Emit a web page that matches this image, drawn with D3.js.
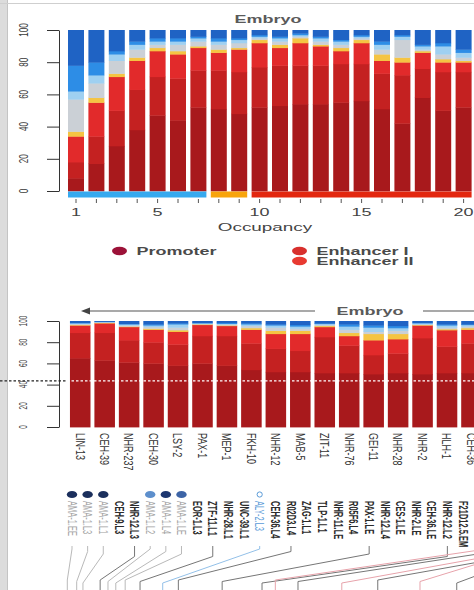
<!DOCTYPE html>
<html>
<head>
<meta charset="utf-8">
<script src="https://cdn.jsdelivr.net/npm/d3@7"></script>
<style>
  html, body { margin: 0; padding: 0; background: #fff; }
  svg { display: block; font-family: "Liberation Sans", Arial, sans-serif; }
</style>
</head>
<body>
<svg id="fig" width="474" height="590"></svg>
<script>
// ---------- occupancy panel: share of each chromatin state (%) per occupancy level ----------
const occupancy = [1, 2, 3, 4, 5, 6, 7, 8, 9, 10, 11, 12, 13, 14, 15, 16, 17, 18, 19, 20];
const occTickLabels = [1, 5, 10, 15, 20];
const occClass = ["low", "low", "low", "low", "low", "low", "low", "mid", "mid",
                  "high", "high", "high", "high", "high", "high", "high", "high", "high", "high", "high"];

const occPromoter   = [8, 17, 28, 38, 47, 44, 52, 51, 48, 52, 53, 54, 54, 55, 56, 51, 42, 58, 50, 52];
const occEnhancerI  = [10, 17, 22, 25, 24, 26, 23, 24, 26, 25, 25, 24, 24, 24, 23, 22, 30, 18, 24, 22];
const occEnhancerII = [16, 21, 21, 18, 16, 15, 14, 11, 14, 15, 11, 14, 12, 8, 13, 8, 8, 10, 6, 6];
const occAmber      = [3, 3, 2, 2, 2, 2, 1, 2, 1, 2, 2, 3, 1, 2, 2, 4, 3, 1, 2, 1];
const occGrey       = [20, 9, 8, 5, 2, 4, 3, 3, 3, 1, 2, 1, 2, 2, 1, 3, 11, 1, 3, 2];
const occSky        = [5, 5, 4, 3, 2, 2, 2, 2, 2, 1, 2, 1, 2, 2, 1, 3, 2, 2, 5, 3];
const occBlue       = [16, 8, 2, 2, 2, 2, 1, 2, 1, 1, 1, 1, 1, 1, 1, 2, 1, 1, 2, 2];
const occNavy       = [22, 20, 13, 7, 5, 5, 4, 5, 5, 3, 4, 2, 4, 6, 3, 7, 3, 9, 8, 12];

// ---------- factor panel: same states per transcription factor ----------
const factors = ["LIN-13", "CEH-39", "NHR-237", "CEH-30", "LSY-2", "PAX-1", "MEP-1", "FKH-10", "NHR-12",
                 "MAB-5", "ZIT-11", "NHR-76", "GEI-11", "NHR-28", "NHR-2", "HLH-1", "CEH-36"];
const tfPromoter   = [65, 63, 61, 60, 58, 60, 58, 54, 52, 52, 51, 51, 50, 51, 50, 51, 51];
const tfEnhancerI  = [24, 26, 21, 20, 20, 26, 28, 25, 22, 20, 34, 26, 18, 18.5, 34, 25, 28];
const tfEnhancerII = [7, 9, 12.5, 12, 12, 10.5, 9.5, 13, 14, 16, 9.5, 9, 14, 13.5, 12, 15.5, 13];
const tfAmber      = [0.5, 0.5, 0.5, 1, 1.5, 0.5, 0.5, 1.5, 3, 3, 1, 3, 6, 5, 0.5, 1, 1.5];
const tfGrey       = [1, 0.5, 1, 1.5, 2.5, 0.5, 1, 2, 3, 2, 1, 3, 2, 3, 0.5, 1.5, 1.5];
const tfSky        = [0.5, 0.3, 1, 1.5, 3, 0.5, 0.5, 1.5, 2, 2, 1, 3, 4, 2.5, 1, 2, 1.5];
const tfBlue       = [0.5, 0.2, 0.5, 1, 1, 0.5, 1, 1, 1, 1.5, 0.5, 2, 2, 2, 0.5, 1, 0.5];
const tfNavy       = [1.5, 0.5, 2.5, 3, 2, 1.5, 1.5, 2, 3, 3.5, 2, 3, 4, 4.5, 1.5, 3, 3];
const tfRefLine = 43.5;

// ---------- experiment labels and their links to the lineage below ----------
const experiments = ["AMA-1.EE", "AMA-1.L3", "AMA-1.L1", "CEH-9.L3", "NHR-12.L3", "AMA-1.L2", "AMA-1.L4",
                     "AMA-1.LE", "EOR-1.L3", "ZTF-11.L1", "NHR-28.L1", "UNC-39.L1", "ALY-2.L3", "CEH-36.L4",
                     "R02D3.L4", "ZAG-1.L1", "TLP-1.L1", "NHR-11.LE", "R05F6.L4", "PAX-1.LE", "NHR-12.L4",
                     "CES-1.LE", "NHR-2.LE", "CEH-36.LE", "NHR-12.L2", "F21D12.5.EM"];
const experimentTone = ["muted", "muted", "muted", "plain", "plain", "muted", "muted", "muted", "plain", "plain",
                        "plain", "plain", "sky", "plain", "plain", "plain", "plain", "plain", "plain", "plain",
                        "plain", "plain", "plain", "plain", "plain", "plain"];
const markerIndex = [0, 1, 2, 5, 6, 7];
const markerTone  = ["#1b2f5c", "#1b2f5c", "#1b2f5c", "#5d8fcc", "#1d3770", "#3d64a6"];
const linkFrom = [0, 1, 2, 4, 5, 6, 7, 9, 12, 14, 19, 24, 26.5, 27, 27.5, 28, 29, 30];
const linkTo   = [-0.3, 0.3, 0.7, 1.8, 2.3, 2.8, 3.4, 4.35, 5.8, 6.8, 9.6, 12.15, 13.0, 14.45, 17.25, 19.55, 22.25, 24.6];
const linkTone = ["light", "light", "light", "dark", "light", "light", "light", "dark", "sky", "dark",
                  "dark", "dark", "rose", "dark", "rose", "dark", "rose", "dark"];

// ---------- styling ----------
const layerKeys = ["promoter", "enhancerI", "enhancerII", "amber", "grey", "sky", "blue", "navy"];
const layerColor = {
  promoter: "#a8191c", enhancerI: "#c42121", enhancerII: "#e22a2b", amber: "#f5c443",
  grey: "#cbd0d6", sky: "#9fd0f1", blue: "#2d8de6", navy: "#1f63c4"
};
const classColor = { low: "#36a9ef", mid: "#f8a40b", high: "#e3270f" };
const toneText = { muted: "#a3a3a3", plain: "#2b2b2b", sky: "#5a9bd8" };
const toneLink = { light: "#b9b9b9", dark: "#767676", sky: "#93c0e8", rose: "#e7a3ab" };
const SX = 1.8;   // horizontal widening applied to all lettering

const svg = d3.select("#fig");

function label(g, x, y, str, o = {}) {
  return g.append("text")
    .attr("transform", `translate(${x},${y}) scale(${o.sx ?? SX},1) rotate(${o.rot ?? 0})`)
    .attr("font-size", o.size ?? 10)
    .attr("font-weight", o.weight ?? "normal")
    .attr("fill", o.fill ?? "#333")
    .attr("text-anchor", o.anchor ?? "middle")
    .attr("dominant-baseline", o.baseline ?? "auto")
    .text(str);
}

// frame of the page
svg.append("rect").attr("x", 0).attr("y", 0).attr("width", 7).attr("height", 590).attr("fill", "#dcdcdc");
svg.append("line").attr("x1", 7.5).attr("x2", 7.5).attr("y1", 0).attr("y2", 590).attr("stroke", "#c4c4c4");
svg.append("line").attr("x1", 0).attr("x2", 474).attr("y1", 3.5).attr("y2", 3.5).attr("stroke", "#cfcfcf");

function stackedBars(g, cats, keyName, cols, x, y) {
  const rows = cats.map((c, i) => {
    const r = { [keyName]: c };
    layerKeys.forEach((k, j) => { r[k] = cols[j][i]; });
    return r;
  });
  const series = d3.stack().keys(layerKeys)(rows);
  g.selectAll("g.layer").data(series).join("g")
    .attr("class", "layer")
    .attr("fill", d => layerColor[d.key])
    .selectAll("rect").data(d => d).join("rect")
    .attr("x", d => x(d.data[keyName]))
    .attr("width", x.bandwidth())
    .attr("y", d => y(d[1]))
    .attr("height", d => Math.max(0, y(d[0]) - y(d[1]) + 0.4));
}

function leftAxis(g, y, size) {
  const ax = g.append("g").attr("transform", "translate(59,0)")
    .call(d3.axisLeft(y).tickValues([0, 20, 40, 60, 80, 100]).tickSize(12).tickSizeOuter(0).tickFormat(""));
  ax.select(".domain").attr("stroke", "#333");
  ax.selectAll(".tick line").attr("stroke", "#333");
  [0, 20, 40, 60, 80, 100].forEach(v =>
    label(g, 23, y(v), v, { size, rot: -90, sx: 1.6, baseline: "central", fill: "#3a3a3a" }));
}

// ================= occupancy panel =================
const p1 = svg.append("g");
const x1 = d3.scaleBand(occupancy, [65.8, 473.8]).paddingInner(0.216).paddingOuter(0.108);
const y1 = d3.scaleLinear([0, 100], [191, 30]);

label(p1, 268, 23, "Embryo", { size: 10, weight: "bold", fill: "#5a5a5a" });
stackedBars(p1, occupancy, "occ",
  [occPromoter, occEnhancerI, occEnhancerII, occAmber, occGrey, occSky, occBlue, occNavy], x1, y1);
leftAxis(p1, y1, 8);

// occupancy class strip under the bars
const classRuns = [];
occupancy.forEach((o, i) => {
  const last = classRuns[classRuns.length - 1];
  if (last && last.cls === occClass[i]) last.to = o; else classRuns.push({ cls: occClass[i], from: o, to: o });
});
p1.selectAll("rect.strip").data(classRuns).join("rect")
  .attr("class", "strip")
  .attr("x", d => x1(d.from))
  .attr("width", d => x1(d.to) + x1.bandwidth() - x1(d.from))
  .attr("y", 191.5).attr("height", 6)
  .attr("fill", d => classColor[d.cls]);

const xAx = p1.append("g").attr("transform", "translate(0,199)")
  .call(d3.axisBottom(x1).tickSize(4).tickFormat(""));
xAx.select(".domain").remove();
xAx.selectAll(".tick line").attr("stroke", "#555");
occTickLabels.forEach(v => label(p1, x1(v) + x1.bandwidth() / 2, 216, v, { size: 10, fill: "#444" }));
label(p1, 265, 231, "Occupancy", { size: 10.5, fill: "#444" });

// legend
const legend = [
  { name: "Promoter", color: "#9c1238", x: 119.5, y: 251 },
  { name: "Enhancer I", color: "#d8302d", x: 299.5, y: 251 },
  { name: "Enhancer II", color: "#e83a31", x: 299.5, y: 261 }
];
legend.forEach(d => {
  p1.append("ellipse").attr("cx", d.x).attr("cy", d.y).attr("rx", 7.5).attr("ry", 4.2).attr("fill", d.color);
  label(p1, d.x + 17, d.y + 3.5, d.name, { size: 10, weight: "bold", anchor: "start", fill: "#4a4a4a" });
});

// ================= factor panel =================
const p2 = svg.append("g");
const x2 = d3.scaleBand(factors, [68, 483.7]).paddingInner(0.16).paddingOuter(0.08);
const y2 = d3.scaleLinear([0, 100], [427, 321]);

// direction arrow with title
p2.append("line").attr("x1", 86).attr("x2", 315).attr("y1", 311).attr("y2", 311).attr("stroke", "#555").attr("stroke-width", 1.2);
p2.append("path").attr("d", d3.line()([[81, 311], [90, 307.5], [90, 314.5]]) + "Z").attr("fill", "#444");
p2.append("line").attr("x1", 423).attr("x2", 474).attr("y1", 311).attr("y2", 311).attr("stroke", "#555").attr("stroke-width", 1.2);
label(p2, 370, 315, "Embryo", { size: 10, weight: "bold", fill: "#5a5a5a" });

stackedBars(p2, factors, "tf",
  [tfPromoter, tfEnhancerI, tfEnhancerII, tfAmber, tfGrey, tfSky, tfBlue, tfNavy], x2, y2);
leftAxis(p2, y2, 6.5);

// reference level
p2.append("line").attr("x1", 0).attr("x2", 67).attr("y1", y2(tfRefLine)).attr("y2", y2(tfRefLine))
  .attr("stroke", "#222").attr("stroke-width", 1.1).attr("stroke-dasharray", "2.5,2");
p2.append("line").attr("x1", 67).attr("x2", 474).attr("y1", y2(tfRefLine)).attr("y2", y2(tfRefLine))
  .attr("stroke", "#fff").attr("stroke-width", 1.2).attr("stroke-dasharray", "2.5,2");

factors.forEach(f => label(p2, x2(f) + x2.bandwidth() / 2, 433, f,
  { size: 9, rot: 90, anchor: "start", baseline: "central", sx: 1.5, fill: "#333" }));

// ================= experiment labels and lineage links =================
const p3 = svg.append("g");
const xe = d3.scaleLinear([0, 1], [72, 87.64]);

markerIndex.forEach((k, i) =>
  p3.append("ellipse").attr("cx", xe(k)).attr("cy", 494.5).attr("rx", 5.2).attr("ry", 3.6).attr("fill", markerTone[i]));
const alyIdx = experiments.indexOf("ALY-2.L3");
p3.append("circle").attr("cx", xe(alyIdx)).attr("cy", 494.5).attr("r", 2.6)
  .attr("fill", "none").attr("stroke", toneText.sky).attr("stroke-width", 1);

experiments.forEach((e, i) => label(p3, xe(i), 501, e,
  { size: 7.5, rot: 90, anchor: "start", baseline: "central", sx: 1.7,
    fill: toneText[experimentTone[i]], weight: experimentTone[i] === "plain" ? "bold" : "normal" }));

linkFrom.forEach((f, i) => {
  const sx = xe(f), tx = xe(linkTo[i]);
  const knee = 549 + (i % 4) * 2.5;
  p3.append("path")
    .attr("d", d3.line()([[sx, 546], [sx, knee], [tx, 580 + (i % 3) * 1.5], [tx, 590]]))
    .attr("fill", "none").attr("stroke", toneLink[linkTone[i]]).attr("stroke-width", 1);
});
</script>
</body>
</html>
